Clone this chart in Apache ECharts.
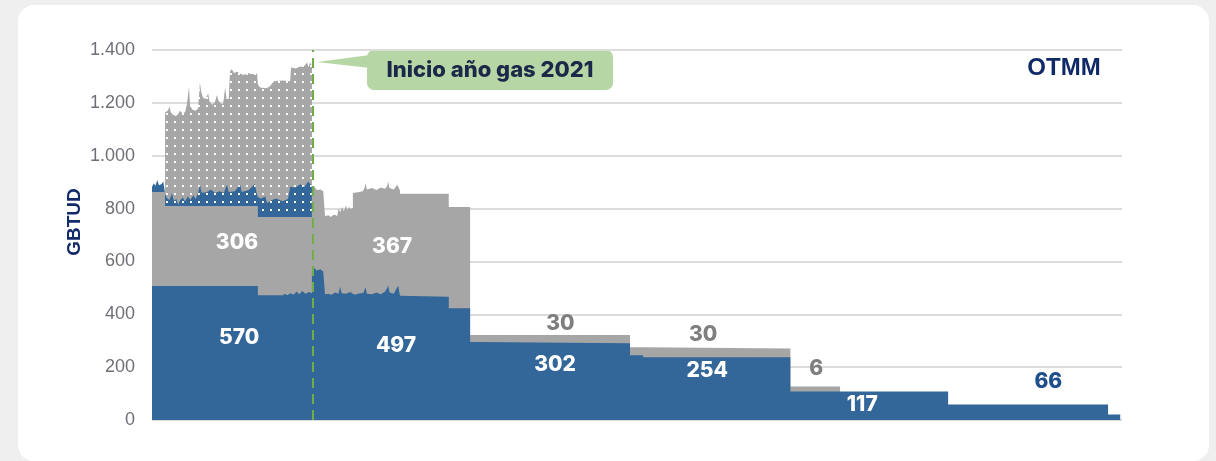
<!DOCTYPE html>
<html>
<head>
<meta charset="utf-8">
<title>OTMM</title>
<script src="https://cdn.jsdelivr.net/npm/echarts@6/dist/echarts.min.js"></script>
<style>
  html, body { margin: 0; padding: 0; background: #efefef; }
  .card { position: absolute; left: 18px; top: 5px; width: 1191px; height: 456px; background: #fff; border-radius: 16px; }
  #chart { position: absolute; left: 0; top: 0; width: 1216px; height: 461px; }
</style>
</head>
<body>
<div class="card"></div>
<div id="chart"></div>
<script>
// eje x: días desde el inicio del periodo; eje y: GBTUD (valores acumulados del borde superior de cada capa)
const blueBase = [
  [0,507],[243,507],[243,472],[300,472],[305,478],[310,472],[318,480],[325,474],[332,486],[338,476],[345,488],[352,478],[360,484],[367,480],
  [367,567],[372,576],[378,566],[386,570],[393,562],[397,560],[397,476],[405,478],[412,474],[420,482],[428,478],[432,505],[435,480],
  [445,478],[455,484],[465,474],[475,479],[485,481],[490,502],[493,478],[505,476],[515,482],[525,476],[535,486],[540,500],[542,510],
  [545,482],[555,478],[562,500],[565,508],[569,470],[569,466],[681,466],[681,423],[730,423],[730,295],[748,295],[748,290],
  [1097,290],[1097,245],[1127,245],[1127,237],[1465,237],[1465,108],[1827,108],[1827,59],[2194,59],[2194,21],[2222,21]
];
const grayTop = [
  [0,863],[30,863],[30,810],[243,810],[243,768],[367,768],[367,874],[372,884],[378,870],[386,872],[393,866],[397,866],
  [397,772],[405,775],[410,768],[418,778],[425,772],[428,800],[432,786],[436,806],[440,790],[445,812],[448,795],[452,806],
  [456,798],[461,802],[461,859],[472,862],[484,866],[488,880],[490,897],[493,872],[505,878],[515,870],[525,880],[535,875],
  [540,886],[542,902],[545,878],[555,872],[563,890],[566,895],[569,868],[569,856],[681,856],[681,806],[730,806],
  [730,322],[1097,322],[1097,275],[1127,275],[1127,271],[1465,271],[1465,127],[1579,127]
];
const stripLead = [
  [0,882],[4,896],[8,886],[12,908],[16,888],[22,893],[26,902],[30,896]
];
const stripDotted = [
  [30,856],[34,840],[40,832],[46,857],[50,830],[56,836],[60,814],[64,830],[70,842],[76,828],[82,846],[88,832],[95,850],
  [100,836],[106,859],[110,890],[114,860],[125,862],[135,872],[145,859],[155,866],[165,860],[172,890],[176,863],[190,866],
  [202,892],[206,863],[222,870],[236,893],[240,860],[243,844],[250,838],[260,846],[264,821],[275,832],[285,838],[300,828],
  [312,836],[317,882],[330,880],[340,892],[350,882],[358,902],[367,886]
];
const dottedTop = [
  [30,1163],[37,1172],[40,1186],[43,1165],[48,1155],[55,1150],[60,1158],[64,1170],[70,1160],[76,1165],[80,1193],[83,1200],
  [85,1261],[87,1195],[92,1175],[100,1170],[106,1180],[110,1276],[113,1240],[117,1220],[122,1215],[126,1225],[129,1235],
  [132,1205],[138,1193],[144,1200],[149,1230],[152,1210],[158,1198],[163,1195],[168,1258],[171,1215],[176,1215],[179,1318],
  [183,1328],[188,1313],[195,1318],[202,1311],[210,1305],[220,1313],[230,1308],[241,1311],[243,1270],[248,1258],[262,1255],
  [270,1262],[280,1282],[283,1280],[300,1285],[317,1282],[319,1334],[330,1330],[340,1338],[347,1336],[356,1353],[359,1336],
  [363,1353],[367,1340]
];
const gasYearStart = 370;

// etiquetas de valores
const labelTexts = ['570','306','497','367','302','30','254','30','117','6','66'];
const labelCoords = [[200,313],[195,670],[560,281],[551,654],[925,211],[937,366],[1274,188],[1265,321],[1630,59],[1524,193],[2057,146]];
const labelKinds = ['in','in','in','in','in','out','in','out','in','out','blue'];

const BLUE = '#346799';
const GRAY = '#a6a6a6';
const kindColor = { in: '#ffffff', out: '#7f7f7f', blue: '#1f4e8c' };

function dotPattern(bg) {
  const c = document.createElement('canvas');
  c.width = 8; c.height = 8;
  const ctx = c.getContext('2d');
  if (bg) { ctx.fillStyle = bg; ctx.fillRect(0, 0, 8, 8); }
  ctx.fillStyle = '#ffffff';
  ctx.fillRect(6, 1, 2, 2);
  return c;
}

function areaSeries(name, data, color, extra) {
  return Object.assign({
    name: name,
    type: 'line',
    data: data,
    showSymbol: false,
    symbol: 'none',
    lineStyle: { width: 0 },
    areaStyle: { color: color, opacity: 1 },
    silent: true
  }, extra || {});
}

const myChart = echarts.init(document.getElementById('chart'), null, { renderer: 'canvas' });

const option = {
  animation: false,
  backgroundColor: 'transparent',
  grid: { left: 152, right: 94, top: 50, bottom: 41 },
  xAxis: { type: 'value', min: 0, max: 2226, show: false },
  yAxis: {
    type: 'value',
    min: 0,
    max: 1400,
    interval: 200,
    axisLine: { show: false },
    axisTick: { show: false },
    axisLabel: {
      margin: 17,
      color: '#6f6f78',
      fontSize: 18,
      fontFamily: 'Liberation Sans',
      formatter: function (v) { return String(v).replace(/\B(?=(\d{3})+(?!\d))/g, '.'); }
    },
    splitLine: { lineStyle: { color: '#dcdcdc', width: 2 } }
  },
  series: [
    areaSeries('Adicional', dottedTop, { image: dotPattern(GRAY), repeat: 'repeat' }),
    areaSeries('Franja', stripLead.concat(stripDotted), BLUE),
    areaSeries('Puntos', stripDotted, { image: dotPattern(null), repeat: 'repeat' }),
    areaSeries('Gris', grayTop, GRAY),
    areaSeries('Azul', blueBase, BLUE, {
      markLine: {
        silent: true,
        symbol: 'none',
        label: { show: false },
        lineStyle: { color: '#6fae45', width: 2, type: [10, 6] },
        data: [{ xAxis: gasYearStart }]
      }
    }),
    {
      type: 'scatter',
      silent: true,
      symbolSize: 1,
      itemStyle: { color: 'rgba(0,0,0,0)', opacity: 1 },
      z: 5,
      data: labelCoords.map(function (c, i) {
        return {
          value: c,
          label: {
            show: true,
            position: 'inside',
            formatter: labelTexts[i],
            color: kindColor[labelKinds[i]],
            opacity: 1,
            fontSize: 21,
            fontWeight: 800,
            fontFamily: 'Inter'
          }
        };
      })
    }
  ],
  graphic: [
    {
      type: 'text', x: 75, y: 222, rotation: Math.PI / 2,
      style: { text: 'GBTUD', align: 'center', verticalAlign: 'middle', font: 'bold 19px "Liberation Sans"', fill: '#12296a' }
    },
    {
      type: 'text', x: 1064, y: 68,
      style: { text: 'OTMM', align: 'center', verticalAlign: 'middle', font: 'bold 24px "Liberation Sans"', fill: '#0f2a66' }
    },
    {
      type: 'polygon', shape: { points: [[317, 62], [370, 55], [370, 68]] },
      style: { fill: '#b6d6a6' }
    },
    {
      type: 'rect', shape: { x: 367, y: 50, width: 246, height: 40, r: 7 },
      style: { fill: '#b6d6a6' }
    },
    {
      type: 'text', x: 490, y: 70,
      style: { text: 'Inicio año gas 2021', align: 'center', verticalAlign: 'middle', font: '800 22px Inter', fill: '#1b2847' }
    }
  ]
};

myChart.setOption(option);
window.addEventListener('resize', myChart.resize);
</script>
</body>
</html>
